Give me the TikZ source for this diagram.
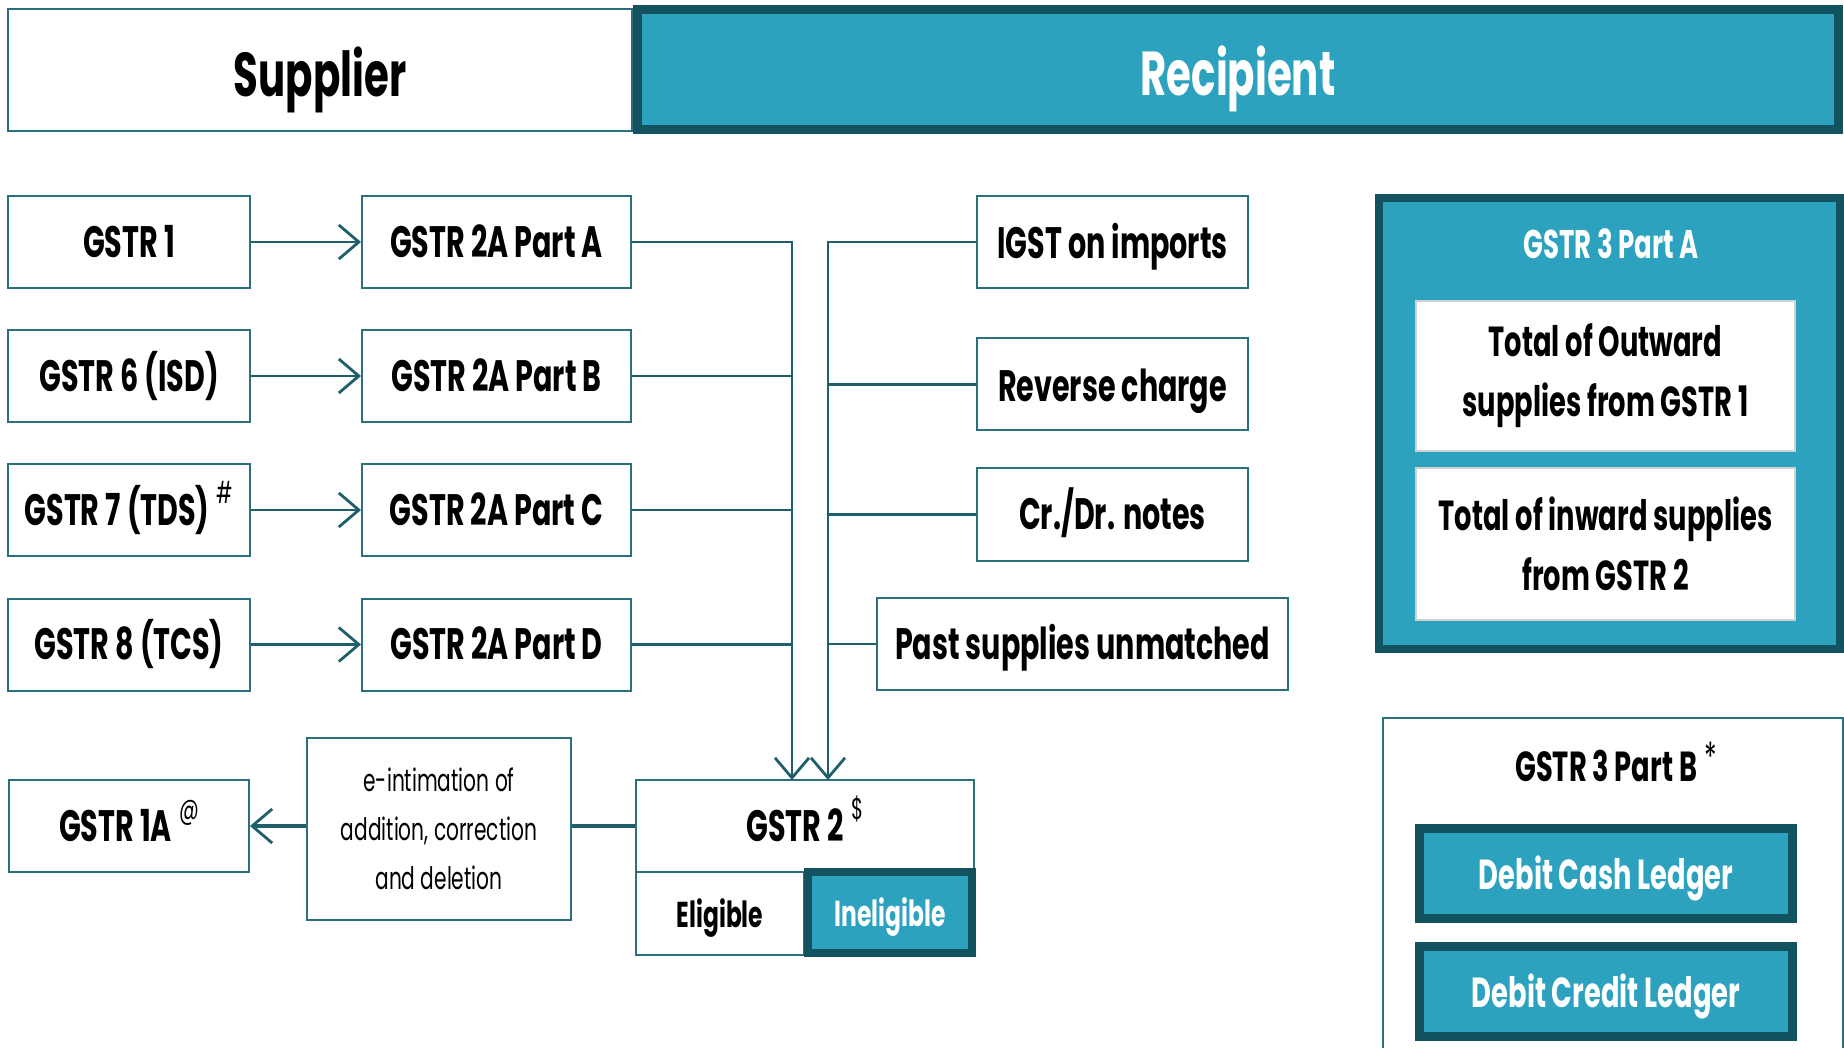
\documentclass[tikz,border=0pt]{standalone}
\usepackage{fontspec}
\setmainfont{Poppins}[FakeStretch=0.65]
\usetikzlibrary{arrows.meta}

\definecolor{tealfill}{HTML}{2CA2BF}
\definecolor{tealdark}{HTML}{12535F}
\definecolor{boxline}{HTML}{2B6F7C}
\definecolor{wire}{HTML}{1E5F6B}

\newcommand\fntHead{\fontsize{31}{36}\selectfont\bfseries}
\newcommand\fntBox{\fontsize{22}{26}\selectfont\bfseries}
\newcommand\fntNote{\fontsize{15.5}{24.5}\selectfont}
\newcommand\fntTwo{\fontsize{21}{30}\selectfont\bfseries}
\newcommand\fntSmall{\fontsize{18}{22}\selectfont\bfseries}
\newcommand\supmark[1]{\,\raisebox{0.5em}{\mdseries\fontsize{15}{15}\selectfont #1}}
\newcommand\starmark{\,\raisebox{0.25em}{\mdseries\fontsize{20}{20}\selectfont *}}

\begin{document}
\begin{tikzpicture}[x=0.5pt,y=-0.5pt,
  wh/.style 2 args={minimum width=#1pt/2, minimum height=#2pt/2},
  capc/.style={text height=#1, text depth=0pt},
  plain/.style={draw=boxline, line width=1pt, fill=white, inner sep=0pt,
    align=center, text=black, font=\fntBox, capc=15.4pt},
  darkbox/.style={draw=tealdark, line width=4pt, fill=tealfill, inner sep=0pt,
    align=center, text=white, font=\fntBox, capc=15.4pt},
  multi/.style={text height=, text depth=},
  wire/.style={draw=wire, line width=1.4pt},
  tip/.style={-{Straight Barb[length=10pt,width=17pt,line width=1.4pt]}}
]
\useasboundingbox (0,0) rectangle (1844,1048);
\clip (0,0) rectangle (1844,1048);
\fill[white] (0,0) rectangle (1844,1048);

% headers
\node[plain, font=\fntHead, capc=26.5pt, wh={624}{122}] (sup) at (320,70) {Supplier};
\node[darkbox, font=\fntHead, capc=26.5pt, line width=4.5pt, wh={1201}{120}] (rec) at (1238,69.5) {Recipient};

% supplier returns and GSTR 2A parts
\node[plain, wh={242}{92}] (g1) at (129,242) {GSTR 1};
\node[plain, wh={269}{92}] (pa) at (496.5,242) {GSTR 2A Part A};
\node[plain, wh={242}{92}] (g6) at (129,376) {GSTR 6 (ISD)};
\node[plain, wh={269}{92}] (pb) at (496.5,376) {GSTR 2A Part B};
\node[plain, wh={242}{92}] (g7) at (129,510) {GSTR 7 (TDS)\supmark{\#}};
\node[plain, wh={269}{92}] (pc) at (496.5,510) {GSTR 2A Part C};
\node[plain, wh={242}{92}] (g8) at (129,644.5) {GSTR 8 (TCS)};
\node[plain, wh={269}{92}] (pd) at (496.5,644.5) {GSTR 2A Part D};

% recipient inputs
\node[plain, capc=17pt, wh={271}{92}] (igst) at (1112.5,242) {IGST on imports};
\node[plain, capc=17pt, wh={271}{92}] (rc) at (1112.5,384.5) {Reverse charge};
\node[plain, wh={271}{92}] (cd) at (1112.5,514.5) {Cr./Dr. notes};
\node[plain, wh={411}{92}] (past) at (1082.5,644) {Past supplies unmatched};

% bottom row
\node[plain, wh={240}{92}] (g1a) at (129,826) {GSTR 1A\supmark{@}};
\node[plain, multi, font=\fntNote, wh={264}{182}] (eint) at (439,829)
  {e-intimation of\\addition, correction\\and deletion};
\node[plain, wh={338}{92}] (g2) at (805,826) {GSTR 2\supmark{\$}};
\node[plain, font=\fntSmall, capc=14pt, wh={168}{83}] (elig) at (720,913.5) {Eligible};
\node[darkbox, font=\fntSmall, capc=14pt, wh={164}{81}] (inel) at (890,912.5) {Ineligible};

% GSTR 3 Part A
\node[darkbox, wh={461}{451}] (g3a) at (1609.5,423.5) {};
\node[text=white, font=\fontsize{20}{24}\selectfont\bfseries, capc=14pt, inner sep=0pt] (g3at) at (1611,245) {GSTR 3 Part A};
\node[plain, multi, draw=white!82!black, font=\fntTwo, wh={379}{150}] (outw) at (1605.5,376)
  {Total of Outward\\supplies from GSTR 1};
\node[plain, multi, draw=white!82!black, font=\fntTwo, wh={379}{152}] (inw) at (1605.5,544)
  {Total of inward supplies\\from GSTR 2};

% GSTR 3 Part B
\node[plain, wh={460}{352}] (g3b) at (1613,894) {};
\node[font=\fontsize{21}{24}\selectfont\bfseries, capc=14.7pt, inner sep=0pt] (g3bt) at (1616,767)
  {GSTR 3 Part B\starmark};
\node[darkbox, font=\fntTwo, capc=15.5pt, line width=4.5pt, wh={373}{90}] (dcash) at (1606,873.5) {Debit Cash Ledger};
\node[darkbox, font=\fntTwo, capc=15.5pt, line width=4.5pt, wh={373}{90}] (dcred) at (1606,991.5) {Debit Credit Ledger};

% connectors
\coordinate (inL) at (792,780);
\coordinate (inR) at (828,780);

\draw[wire, tip] (g1.east) -- (pa.west);
\draw[wire, tip] (g6.east) -- (pb.west);
\draw[wire, tip] (g7.east) -- (pc.west);
\draw[wire, tip] (g8.east) -- (pd.west);

\draw[wire, tip] (pa.east) -| (inL);
\draw[wire] (pb.east) -- (pb.east -| inL);
\draw[wire] (pc.east) -- (pc.east -| inL);
\draw[wire] (pd.east) -- (pd.east -| inL);

\draw[wire, tip] (igst.west) -| (inR);
\draw[wire] (rc.west) -- (rc.west -| inR);
\draw[wire] (cd.west) -- (cd.west -| inR);
\draw[wire] (past.west) -- (past.west -| inR);

\draw[wire, line width=1.8pt] (g2.west) -- (g2.west -| eint.east);
\draw[wire, line width=1.8pt, tip] (g1a.east -| eint.west) -- (g1a.east);
\end{tikzpicture}
\end{document}
